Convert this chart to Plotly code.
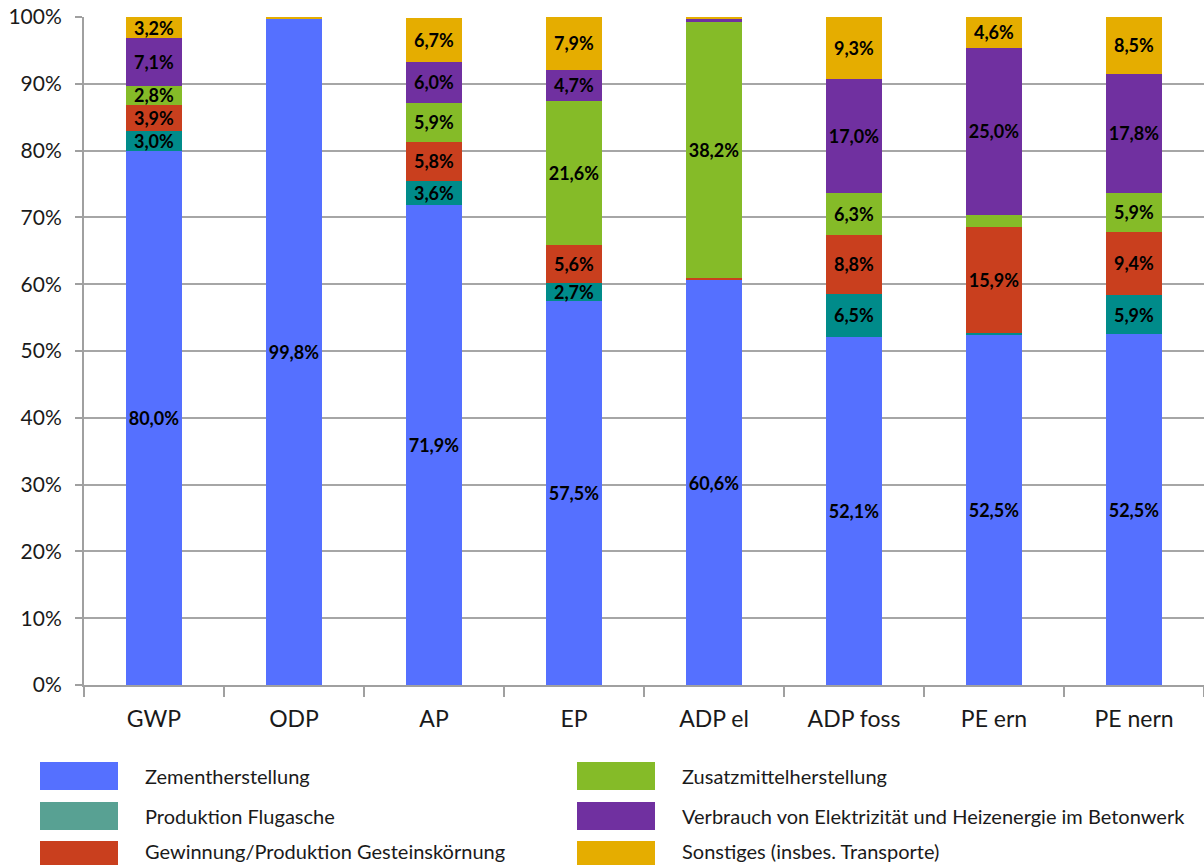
import plotly.graph_objects as go

categories = ["GWP", "ODP", "AP", "EP", "ADP el", "ADP foss", "PE ern", "PE nern"]

zement      = [80.0, 99.8, 71.9, 57.5, 60.6, 52.1, 52.5, 52.5]
flugasche   = [3.0, 0.0, 3.6, 2.7, 0.0, 6.5, 0.2, 5.9]
gestein     = [3.9, 0.0, 5.8, 5.6, 0.4, 8.8, 15.9, 9.4]
zusatz      = [2.8, 0.0, 5.9, 21.6, 38.2, 6.3, 1.8, 5.9]
verbrauch   = [7.1, 0.0, 6.0, 4.7, 0.6, 17.0, 25.0, 17.8]
sonstiges   = [3.2, 0.2, 6.7, 7.9, 0.2, 9.3, 4.6, 8.5]

series_names = [
    "Zementherstellung",
    "Produktion Flugasche",
    "Gewinnung/Produktion Gesteinskörnung",
    "Zusatzmittelherstellung",
    "Verbrauch von Elektrizität und Heizenergie im Betonwerk",
    "Sonstiges (insbes. Transporte)",
]
series_values = [zement, flugasche, gestein, zusatz, verbrauch, sonstiges]
bar_colors = ["#5570FF", "#008B8A", "#C93F1E", "#85BB28", "#7030A0", "#E5AD00"]
legend_colors = ["#5570FF", "#58A193", "#C93F1E", "#85BB28", "#7030A0", "#E5AD00"]

label_threshold = 2.0
y_ticks = list(range(0, 101, 10))

FONT = "Lato"

def fmt(v):
    return (f"{v:.1f}".replace(".", ",") + "%") if v >= label_threshold else ""

fig = go.Figure()
for name, vals, col in zip(series_names, series_values, bar_colors):
    fig.add_trace(go.Bar(
        x=categories, y=vals, name=name,
        marker=dict(color=col, line=dict(width=0)),
        text=[fmt(v) for v in vals],
        textposition="inside", insidetextanchor="middle", textangle=0,
        textfont=dict(family=FONT, size=18, color="black", weight="bold"),
        constraintext="none",
        showlegend=False,
    ))

W, H = 1204, 865
L, R, T, B = 84, 0, 17, 180
pw, ph = W - L - R, H - T - B

def px(xp):
    return (xp - L) / pw

def py(yp):
    return (H - B - yp) / ph

# legend drawn as swatches + labels (two columns, three rows)
legend_order = [0, 3, 1, 4, 2, 5]
col_x = [40, 577]
row_y = [776, 816, 851]
sw_w, sw_h = 78, 28
shapes, annos = [], []
for k, idx in enumerate(legend_order):
    c, r = k % 2, k // 2
    x0, yc = col_x[c], row_y[r]
    sw_c = yc if r < 2 else 855
    shapes.append(dict(type="rect", xref="paper", yref="paper",
                       x0=px(x0), x1=px(x0 + sw_w), y0=py(sw_c + sw_h / 2), y1=py(sw_c - sw_h / 2),
                       fillcolor=legend_colors[idx], line=dict(width=0), layer="above"))
    annos.append(dict(xref="paper", yref="paper", x=px(x0 + sw_w + 25), y=py(yc),
                      xanchor="left", yanchor="middle", showarrow=False,
                      text=series_names[idx],
                      font=dict(family=FONT, size=20, color="#1a1a1a")))

fig.update_layout(
    barmode="stack",
    bargap=0.6,
    width=W, height=H,
    margin=dict(l=L, r=R, t=T, b=B, pad=0),
    paper_bgcolor="white", plot_bgcolor="white",
    uniformtext=dict(minsize=18, mode="show"),
    shapes=shapes, annotations=annos,
    showlegend=False,
    font=dict(family=FONT, color="#1a1a1a"),
)
fig.update_xaxes(
    showline=True, linecolor="#A0A0A0", linewidth=2,
    ticks="outside", tickson="boundaries", ticklen=10, tickcolor="#A0A0A0", tickwidth=2,
    tickfont=dict(family=FONT, size=23, color="#1a1a1a"),
    ticklabelstandoff=12,
    showgrid=False,
)
fig.update_yaxes(
    range=[0, 100], tickvals=y_ticks, ticktext=[f"{v}%" for v in y_ticks],
    showline=True, linecolor="#A0A0A0", linewidth=2,
    ticks="outside", ticklen=7, tickcolor="#A0A0A0", tickwidth=2,
    showgrid=True, gridcolor="#A6A6A6", gridwidth=2,
    tickfont=dict(family=FONT, size=21, color="#1a1a1a"),
    ticklabelstandoff=9,
    zeroline=False,
)

fig.write_html("out.html", config={"displayModeBar": False},
               post_script="document.body.style.margin='0px';document.body.style.overflow='hidden';")
